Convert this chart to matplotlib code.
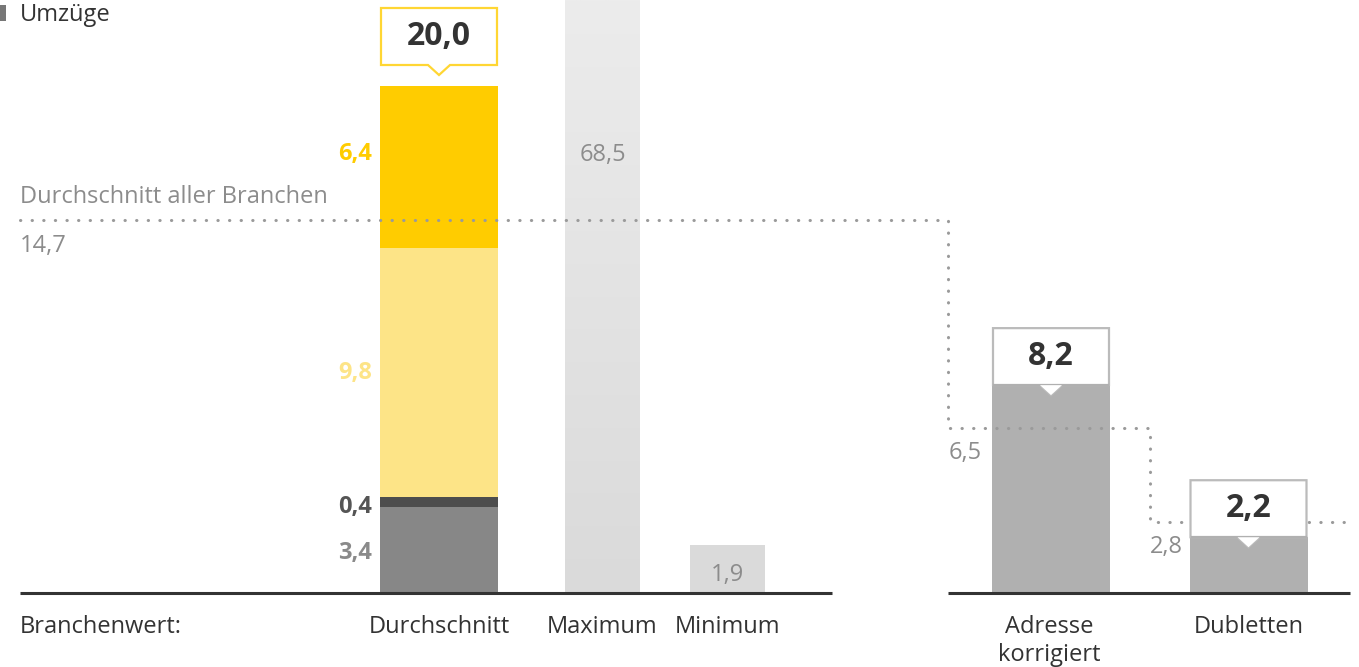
import matplotlib
matplotlib.use("Agg")
import matplotlib.pyplot as plt
import numpy as np
from matplotlib.patches import Polygon, Rectangle
from matplotlib.colors import LinearSegmentedColormap

plt.rcParams['font.family'] = ['Open Sans', 'DejaVu Sans']

# ---- data -------------------------------------------------------------
unit_label = "Umzüge"
stack_labels = ["Basis", "Zusatz", "Korrektur", "Umzug"]
stack_values = [3.4, 0.4, 9.8, 6.4]
stack_colors = ["#878787", "#4d4d4d", "#fde487", "#ffcc00"]
stack_text_colors = ["#8a8a8a", "#555555", "#fde487", "#ffcc00"]
stack_total = 20.0

range_categories = ["Maximum", "Minimum"]
range_values = [68.5, 1.9]

right_categories = ["Adresse\nkorrigiert", "Dubletten"]
right_values = [8.2, 2.2]
benchmark_values = [14.7, 6.5, 2.8]
benchmark_label = "Durchschnitt aller Branchen"
row_label = "Branchenwert:"


def fmt(v):
    return f"{v:.1f}".replace(".", ",")


# ---- layout -------------------------------------------------------------
W, H = 1359, 667
base_px = 593          # pixel row of the zero line
k = 25.35              # pixels per unit

fig = plt.figure(figsize=(W / 100, H / 100), dpi=100)
ax = fig.add_axes([0, 0, 1, 1])
ax.set_xlim(0, W)
ax.set_ylim(-(H - base_px) / k, base_px / k)
ax.axis("off")


def py(p):
    """pixel row -> data y"""
    return (base_px - p) / k


def ph(p):
    """pixel height -> data height"""
    return p / k


dark = "#333333"
gray_txt = "#8c8c8c"
fs = 17

# unit label with marker
ax.add_patch(Rectangle((0, py(21)), 6, ph(16), color="#777777", lw=0))
ax.text(20, py(15), unit_label, fontsize=fs, color=dark, va="center", ha="left")

# stacked average bar
x_avg, w_avg = 439, 118
bottom = 0.0
for v, c in zip(stack_values, stack_colors):
    ax.bar(x_avg, v, width=w_avg, bottom=bottom, color=c, lw=0, zorder=2)
    bottom += v
label_rows = [553, 507, 373, 154]
for v, tc, r in zip(stack_values, stack_text_colors, label_rows):
    ax.text(372, py(r), fmt(v), fontsize=fs, color=tc, fontweight="bold",
            ha="right", va="center")

# maximum bar with vertical gradient (runs off the top)
x_max, w_rng = 602.5, 75
bars = ax.bar(x_max, range_values[0], width=w_rng, color="none", lw=0, zorder=2)
cmap = LinearSegmentedColormap.from_list("g", ["#dadada", "#ececec"])
grad = np.linspace(0, 1, 256).reshape(-1, 1)
ylo, yhi = ax.get_ylim()
im = ax.imshow(grad, cmap=cmap, origin="lower", aspect="auto",
               extent=[x_max - w_rng / 2, x_max + w_rng / 2, 0, yhi], zorder=2)
im.set_clip_path(bars.patches[0])
ax.text(x_max, py(155), fmt(range_values[0]), fontsize=fs, color=gray_txt,
        ha="center", va="center", zorder=4)

# minimum bar
x_min = 727.5
ax.bar(x_min, range_values[1], width=w_rng, color="#dadada", lw=0, zorder=2)
ax.text(x_min, py(575), fmt(range_values[1]), fontsize=fs, color=gray_txt,
        ha="center", va="center", zorder=4)

# right-hand bars
x_right = [1051, 1248.5]
w_right = 118
for xc, v in zip(x_right, right_values):
    ax.bar(xc, v, width=w_right, color="#b0b0b0", lw=0, zorder=2)


def callout(xc, top, text, edge, box_px=57, pointer_into_bar=False):
    """Value box sitting above a bar, with a small pointer."""
    x0, x1 = xc - w_avg / 2 + 1, xc + w_avg / 2 - 1
    if pointer_into_bar:
        yb = top
        tip = top - ph(10)
    else:
        yb = top + ph(21)
        tip = top + ph(11)
    yt = yb + ph(box_px)
    pts = [(x0, yb), (xc - 11, yb), (xc, tip), (xc + 11, yb), (x1, yb),
           (x1, yt), (x0, yt)]
    ax.add_patch(Polygon(pts, closed=True, facecolor="white", edgecolor=edge,
                         lw=1.6, zorder=5, joinstyle="miter"))
    if pointer_into_bar:
        # hide the box edge along the bar top
        ax.plot([x0 + 1, x1 - 1], [yb, yb], color="#b0b0b0", lw=1.6, zorder=5)
        ax.add_patch(Polygon([(xc - 11, yb), (xc, tip), (xc + 11, yb)],
                             closed=True, facecolor="white", lw=0, zorder=6))
    ax.text(xc, (yb + yt) / 2, text, fontsize=23, fontweight="bold",
            color=dark, ha="center", va="center", zorder=7)


callout(x_avg, stack_total, fmt(stack_total), "#ffd633")

# benchmark dotted step line
x_steps = [20, 948, 948, 1150, 1150, 1345]
y_steps = [benchmark_values[0], benchmark_values[0], benchmark_values[1],
           benchmark_values[1], benchmark_values[2], benchmark_values[2]]
ax.plot(x_steps, y_steps, color="#9a9a9a", lw=2.2,
        linestyle=(0, (0.1, 3.7)), dash_capstyle="round", zorder=3)

for xc, v in zip(x_right, right_values):
    callout(xc, v, fmt(v), "#bbbbbb", pointer_into_bar=True)

ax.text(20, py(197), benchmark_label, fontsize=fs, color=gray_txt,
        ha="left", va="center")
ax.text(20, py(246), fmt(benchmark_values[0]), fontsize=fs, color=gray_txt,
        ha="left", va="center")
ax.text(982, py(453), fmt(benchmark_values[1]), fontsize=fs, color=gray_txt,
        ha="right", va="center")
ax.text(1183, py(547), fmt(benchmark_values[2]), fontsize=fs, color=gray_txt,
        ha="right", va="center")

# baselines
ax.plot([20, 832], [0, 0], color="#333333", lw=2.2, zorder=4,
        solid_capstyle="butt")
ax.plot([948, 1350], [0, 0], color="#333333", lw=2.2, zorder=4,
        solid_capstyle="butt")

# category labels
ax.text(20, py(627), row_label, fontsize=fs, color=dark, ha="left", va="center")
ax.text(x_avg, py(627), "Durchschnitt", fontsize=fs, color=dark,
        ha="center", va="center")
for xc, lab in zip([x_max, x_min], range_categories):
    ax.text(xc, py(627), lab, fontsize=fs, color=dark, ha="center", va="center")
for xc, lab in zip([1049, 1248.5], right_categories):
    for i, ln in enumerate(lab.split("\n")):
        ax.text(xc, py(627 + 28 * i), ln, fontsize=fs, color=dark,
                ha="center", va="center")

fig.savefig("out.png", dpi=100)
